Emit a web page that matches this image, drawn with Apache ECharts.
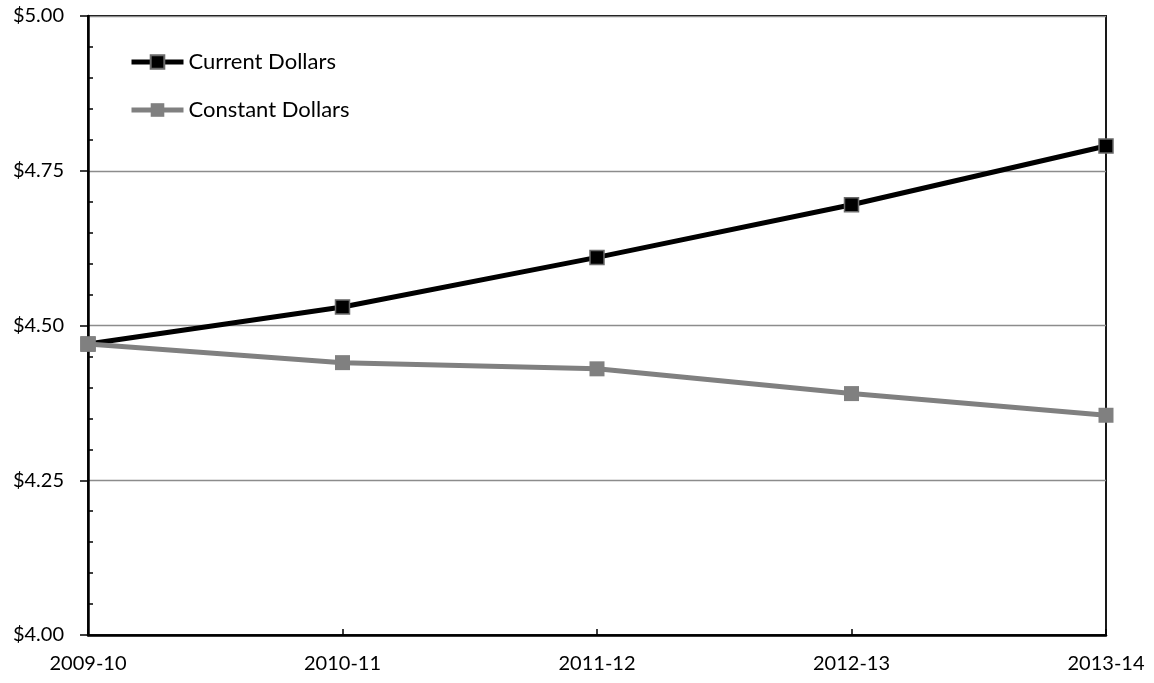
<!DOCTYPE html>
<html>
<head>
<meta charset="utf-8">
<script src="https://cdn.jsdelivr.net/npm/echarts@6/dist/echarts.min.js"></script>
<style>
  html, body { margin: 0; padding: 0; background: #fff; }
  #chart { width: 1154px; height: 683px; }
</style>
</head>
<body>
<div id="chart"></div>
<script>
// School years on the horizontal axis
const years = ['2009-10', '2010-11', '2011-12', '2012-13', '2013-14'];
// Price per unit, nominal
const currentDollars = [4.47, 4.53, 4.61, 4.695, 4.79];
// Price per unit, inflation-adjusted
const constantDollars = [4.47, 4.44, 4.43, 4.39, 4.355];
// Value axis range and step
const yMin = 4.0;
const yMax = 5.0;
const yStep = 0.25;

const FONT = 'Lato';

const chart = echarts.init(document.getElementById('chart'), null, { renderer: 'canvas' });

chart.setOption({
  backgroundColor: '#ffffff',
  animation: false,
  textStyle: { fontFamily: FONT },
  grid: {
    left: 88, right: 48, top: 16, bottom: 48,
    show: true, borderColor: '#000', borderWidth: 1.8, backgroundColor: 'transparent'
  },
  legend: {
    orient: 'vertical',
    left: 124, top: 46,
    itemWidth: 52, itemHeight: 17,
    itemGap: 26,
    itemTextGap: 5,
    lineStyle: { width: 5 },
    textStyle: { fontFamily: FONT, fontSize: 22, color: '#000' },
    data: ['Current Dollars', 'Constant Dollars']
  },
  xAxis: {
    type: 'category',
    data: years,
    boundaryGap: false,
    axisLine: { lineStyle: { color: '#000', width: 2.5 } },
    axisTick: { inside: true, length: 6, lineStyle: { color: '#000', width: 1.5 } },
    axisLabel: { color: '#000', fontSize: 20, fontFamily: FONT, margin: 19 },
    splitLine: { show: false }
  },
  yAxis: [
    {
      type: 'value',
      min: yMin, max: yMax, interval: yStep,
      axisLine: { show: true, lineStyle: { color: '#000', width: 2.5 } },
      axisTick: { show: true, inside: false, length: 8, lineStyle: { color: '#000', width: 1.5 } },
      axisLabel: {
        color: '#000', fontSize: 20, fontFamily: FONT, margin: 24,
        formatter: v => '$' + v.toFixed(2)
      },
      splitLine: { show: true, lineStyle: { color: '#8c8c8c', width: 1.3 } }
    },
    {
      // overlay axis carrying only the small inward ticks
      type: 'value',
      position: 'left',
      min: yMin, max: yMax, interval: yStep,
      axisLine: { show: false },
      axisTick: { show: false, inside: true },
      axisLabel: { show: false },
      splitLine: { show: false },
      minorTick: { show: true, splitNumber: 5, length: 5, lineStyle: { color: '#000', width: 1.5 } },
      minorSplitLine: { show: false }
    }
  ],
  series: [
    {
      name: 'Current Dollars',
      type: 'line',
      data: currentDollars,
      yAxisIndex: 0,
      symbol: 'rect',
      symbolSize: 14,
      showAllSymbol: true,
      lineStyle: { color: '#000', width: 5 },
      itemStyle: { color: '#000', borderColor: '#6a6a6a', borderWidth: 1.5 },
      z: 2
    },
    {
      name: 'Constant Dollars',
      type: 'line',
      data: constantDollars,
      yAxisIndex: 0,
      symbol: 'rect',
      symbolSize: 15,
      showAllSymbol: true,
      lineStyle: { color: '#808080', width: 5 },
      itemStyle: { color: '#808080', borderColor: '#808080', borderWidth: 0 },
      z: 3
    }
  ]
});
</script>
</body>
</html>
